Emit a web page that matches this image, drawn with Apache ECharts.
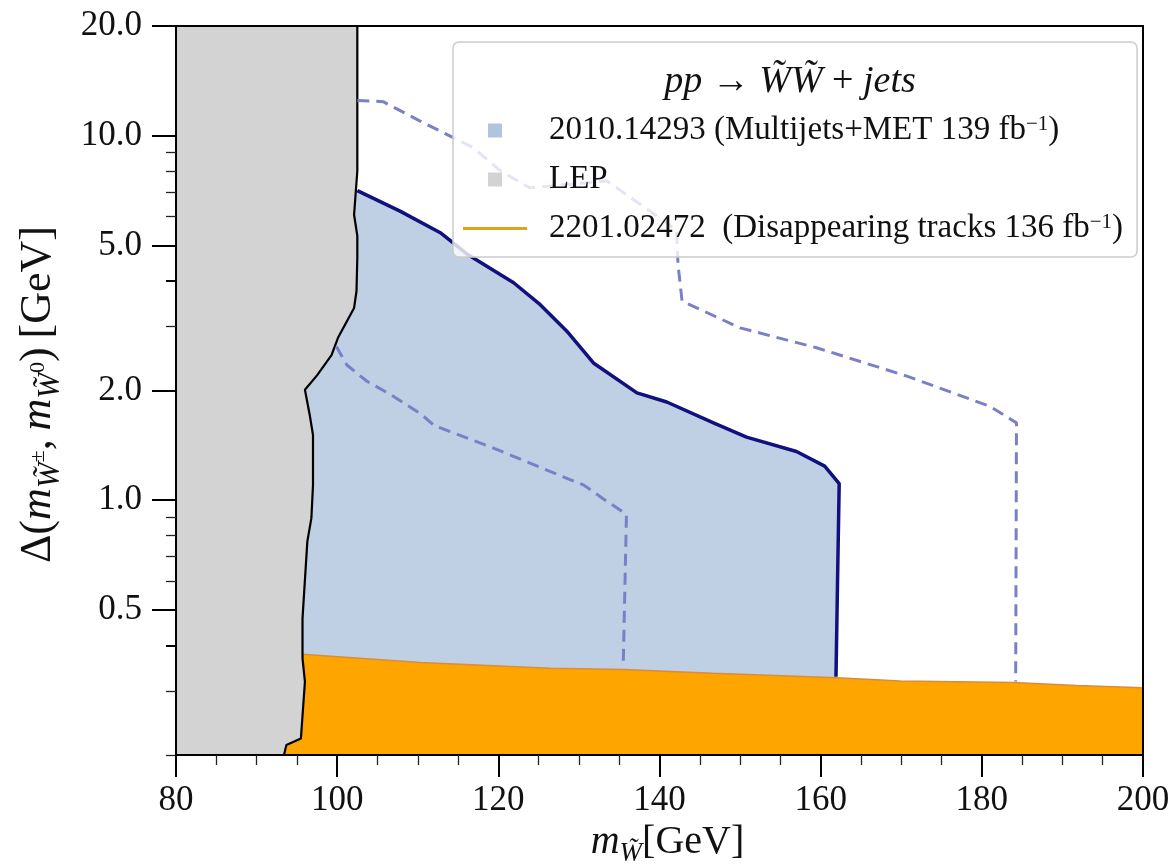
<!DOCTYPE html>
<html>
<head>
<meta charset="utf-8">
<script src="https://cdn.jsdelivr.net/npm/echarts@6.0.0/dist/echarts.min.js"></script>
<style>
  html, body { margin: 0; padding: 0; background: #fff; }
  #chart { width: 1176px; height: 867px; }
</style>
</head>
<body>
<div id="chart"></div>
<script>
// LEP exclusion edge, read top to bottom
const lepX = [102.5, 102.5, 102.1, 102.5, 102.5, 102.4, 102.1, 100.1, 99.3, 97.5, 96.0, 96.6, 97.0, 97.0, 96.8, 96.3, 95.7, 95.7, 96.0, 95.5, 93.7, 93.4];
const lepY = [20, 8.0, 6.07, 5.31, 4.62, 3.75, 3.37, 2.79, 2.50, 2.20, 2.01, 1.71, 1.51, 1.10, 0.893, 0.771, 0.474, 0.368, 0.318, 0.222, 0.213, 0.2];

// 2010.14293 observed limit (solid navy)
const multijetX = [102.5, 107.8, 112.8, 116.1, 121.9, 125.2, 128.5, 131.8, 137.2, 140.9, 146.7, 150.8, 157.0, 160.5, 162.3, 162.1, 161.9];
const multijetY = [7.07, 6.21, 5.42, 4.74, 3.95, 3.44, 2.91, 2.38, 1.97, 1.86, 1.63, 1.49, 1.36, 1.24, 1.11, 0.61, 0.328];

// dashed contours
const dashUpperX = [102.5, 105.7, 110.3, 116.9, 120.3, 123.9, 133.5, 142.1, 142.3, 142.8, 150.0, 159.5, 170.7, 181.0, 184.3, 184.2];
const dashUpperY = [12.5, 12.4, 10.97, 9.27, 8.0, 7.20, 7.51, 5.52, 4.43, 3.52, 2.97, 2.62, 2.19, 1.81, 1.63, 0.318];
const dashLowerX = [99.9, 101.2, 103.7, 106.6, 110.3, 112.1, 119.4, 126.4, 130.6, 133.0, 135.9, 135.5];
const dashLowerY = [2.64, 2.35, 2.12, 1.95, 1.73, 1.60, 1.39, 1.20, 1.10, 1.01, 0.915, 0.353];

// 2201.02472 disappearing tracks upper edge
const trackX = [95.7, 110.3, 126.4, 135.5, 146.6, 162.0, 169.9, 183.9, 191.8, 200];
const trackY = [0.378, 0.359, 0.346, 0.343, 0.335, 0.326, 0.319, 0.316, 0.310, 0.306];

// axis ticks
const yMajorTicks = [0.5, 1, 2, 5, 10, 20];
const yMinorTicks = [0.2, 0.3, 0.6, 0.7, 0.8, 0.9, 3, 6, 7, 8, 9];
const yMidTicks = [0.4, 4];

const names = [
  '2010.14293 (Multijets+MET 139 fb-1)',
  'LEP',
  '2201.02472  (Disappearing tracks 136 fb-1)'
];

const FONT = 'Liberation Serif';

function pairs(xs, ys) {
  return xs.map((x, i) => [x, ys[i]]);
}

// filled region drawn as one polygon through the axis scales
function areaSeries(name, xs, ys, color, z) {
  return {
    type: 'custom',
    name: name,
    z: z,
    silent: true,
    itemStyle: { color: color },
    data: pairs(xs, ys),
    encode: { x: 0, y: 1 },
    renderItem: (params, api) => {
      if (params.dataIndex !== 0) return null;
      const pts = xs.map((x, i) => api.coord([x, ys[i]]));
      return { type: 'polygon', shape: { points: pts }, style: { fill: color } };
    }
  };
}

function lineSeries(name, xs, ys, color, width, type, z) {
  return {
    type: 'line',
    name: name,
    z: z,
    silent: true,
    symbol: 'none',
    data: pairs(xs, ys),
    lineStyle: { color: color, width: width, type: type }
  };
}

const chart = echarts.init(document.getElementById('chart'));

const blueX = multijetX.concat([161.9, 90, 90]);
const blueY = multijetY.concat([0.2, 0.2, multijetY[0]]);
const orangeX = [90].concat(trackX, [200, 90]);
const orangeY = [trackY[0]].concat(trackY, [0.2, 0.2]);
const greyX = [80].concat(lepX, [80]);
const greyY = [20].concat(lepY, [0.2]);

const yBase = {
  type: 'log',
  min: 0.2,
  max: 20,
  position: 'left',
  offset: 0,
  z: 10,
  splitLine: { show: false },
  axisLine: { show: true, lineStyle: { color: '#000', width: 2 } }
};

const option = {
  animation: false,
  backgroundColor: '#fff',
  grid: { left: 176, right: 33, top: 26, bottom: 112, containLabel: false, outerBoundsMode: 'none' },
  xAxis: [
    {
      type: 'value',
      min: 80,
      max: 200,
      interval: 20,
      z: 10,
      splitLine: { show: false },
      axisLine: { lineStyle: { color: '#000', width: 2 } },
      axisTick: { length: 22, lineStyle: { color: '#000', width: 2 } },
      minorTick: { show: true, splitNumber: 4, length: 10, lineStyle: { color: '#222', width: 1.3 } },
      axisLabel: { margin: 28, color: '#111', fontFamily: FONT, fontSize: 35 },
      name: '{it|m}{sub|W\u0303}{rm|[GeV]}',
      nameLocation: 'middle',
      nameGap: 50,
      nameTextStyle: {
        color: '#111',
        padding: [0, 0, 0, 16],
        rich: {
          it: { fontFamily: FONT, fontStyle: 'italic', fontSize: 40, lineHeight: 50 },
          sub: { fontFamily: FONT, fontStyle: 'italic', fontSize: 27, lineHeight: 24, verticalAlign: 'bottom' },
          rm: { fontFamily: FONT, fontSize: 40, lineHeight: 50 }
        }
      }
    },
    {
      type: 'value',
      min: 80,
      max: 200,
      position: 'top',
      z: 10,
      splitLine: { show: false },
      axisLine: { lineStyle: { color: '#000', width: 2 } },
      axisTick: { show: false },
      axisLabel: { show: false }
    }
  ],
  yAxis: [
    Object.assign({}, yBase, {
      axisTick: { show: true, length: 24, customValues: yMajorTicks, lineStyle: { color: '#000', width: 2 } },
      axisLabel: {
        customValues: yMajorTicks,
        margin: 34,
        color: '#111',
        fontFamily: FONT,
        fontSize: 35,
        formatter: v => Number(v).toFixed(1)
      },
      name: '{rm|\u0394(}{it|m}{sub|W\u0303}{sup|\u00b1}{rm|,\u2009}{it|m}{sub|W\u0303}{sup|0}{rm|)\u2009[GeV]}',
      nameLocation: 'middle',
      nameGap: 110,
      nameTextStyle: {
        color: '#111',
        padding: [0, 8, 0, 0],
        rich: {
          rm: { fontFamily: FONT, fontSize: 44, lineHeight: 56 },
          it: { fontFamily: FONT, fontStyle: 'italic', fontSize: 44, lineHeight: 56 },
          sub: { fontFamily: FONT, fontStyle: 'italic', fontSize: 31, lineHeight: 28, verticalAlign: 'bottom' },
          sup: { fontFamily: FONT, fontSize: 22, lineHeight: 52, verticalAlign: 'middle' }
        }
      }
    }),
    Object.assign({}, yBase, {
      axisTick: { show: true, length: 10, customValues: yMinorTicks, lineStyle: { color: '#222', width: 1.3 } },
      axisLabel: { show: false }
    }),
    Object.assign({}, yBase, {
      axisTick: { show: true, length: 10, customValues: yMidTicks, lineStyle: { color: '#000', width: 2 } },
      axisLabel: { show: false }
    }),
    Object.assign({}, yBase, {
      position: 'right',
      axisTick: { show: false },
      axisLabel: { show: false }
    })
  ],
  legend: {
    orient: 'vertical',
    left: 453,
    top: 42,
    z: 20,
    padding: [72, 14, 12, 10],
    itemWidth: 64,
    itemHeight: 14,
    itemGap: 16,
    backgroundColor: 'rgba(255,255,255,0.8)',
    borderColor: '#cccccc',
    borderWidth: 1.5,
    borderRadius: 6,
    selectedMode: false,
    data: [
      { name: names[0], icon: 'path://M0,0H10V10H0Z', itemStyle: { color: '#b0c4de' } },
      { name: names[1], icon: 'path://M0,0H10V10H0Z', itemStyle: { color: '#d3d3d3' } },
      { name: names[2], icon: 'path://M0,0H40V2H0Z', itemStyle: { color: '#daa520' } }
    ],
    formatter: n => n.replace('fb-1', 'fb{sup|\u22121}'),
    textStyle: {
      fontFamily: FONT,
      fontSize: 33,
      lineHeight: 33,
      color: '#111',
      padding: [0, 0, 0, 17],
      rich: {
        sup: { fontFamily: FONT, fontSize: 21, lineHeight: 18, verticalAlign: 'top' }
      }
    }
  },
  graphic: [
    {
      type: 'text',
      x: 790,
      y: 82,
      z: 30,
      style: {
        text: '{it|pp} \u2192 {it|W\u0303W\u0303} + {it|jets}',
        align: 'center',
        verticalAlign: 'middle',
        fill: '#111',
        font: '38px "Liberation Serif"',
        rich: {
          it: { fontFamily: FONT, fontStyle: 'italic', fontSize: 38 }
        }
      }
    }
  ],
  series: [
    areaSeries(names[0], blueX, blueY, '#bfcfe4', 1),
    areaSeries(names[2], orangeX, orangeY, '#ffa500', 2),
    lineSeries('track edge', trackX, trackY, '#d98c3c', 1.5, 'solid', 2),
    areaSeries(names[1], greyX, greyY, '#d3d3d3', 3),
    lineSeries('LEP edge', lepX, lepY, '#000', 2.2, 'solid', 4),
    lineSeries('multijet limit', multijetX, multijetY, '#10107e', 3.5, 'solid', 4),
    lineSeries('dash upper', dashUpperX, dashUpperY, '#7b7fc6', 3, [12, 7], 4),
    lineSeries('dash lower', dashLowerX, dashLowerY, '#7b7fc6', 3, [12, 7], 4)
  ]
};

chart.setOption(option);
</script>
</body>
</html>
